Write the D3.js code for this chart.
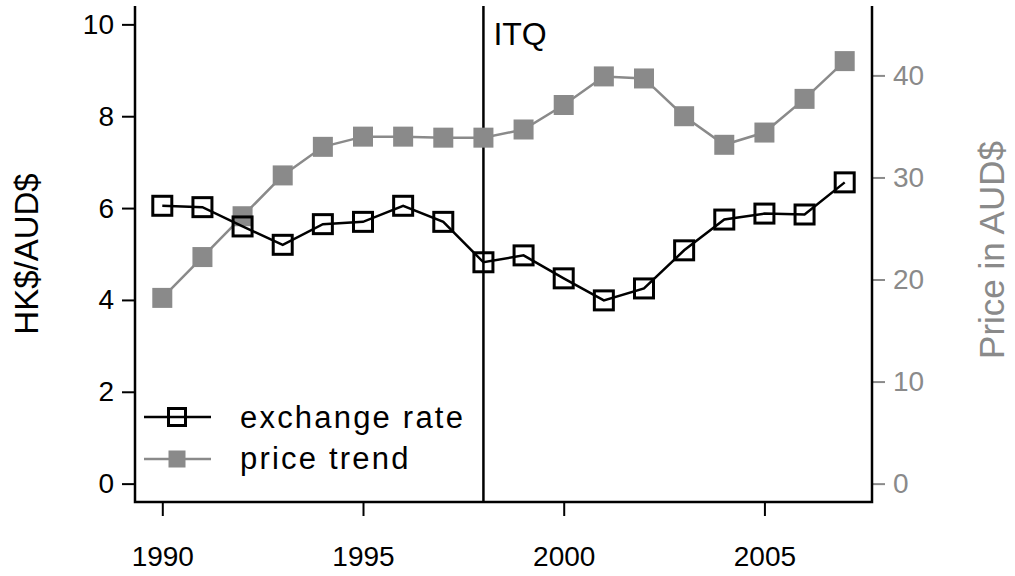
<!DOCTYPE html>
<html><head><meta charset="utf-8">
<script src="https://cdn.jsdelivr.net/npm/d3@7"></script>
<style>body{margin:0;background:#fff}svg{display:block}text{font-family:"Liberation Sans",Arial,sans-serif}</style>
</head><body>
<svg id="c" width="1015" height="576"></svg>
<script>
const years = [1990,1991,1992,1993,1994,1995,1996,1997,1998,1999,2000,2001,2002,2003,2004,2005,2006,2007];
const exchangeRate = [6.05,6.02,5.6,5.2,5.65,5.7,6.05,5.7,4.82,4.97,4.47,3.99,4.25,5.08,5.75,5.88,5.86,6.56];
const priceTrend = [18.2,22.2,26.2,30.2,33.0,34.0,34.0,33.9,33.9,34.7,37.1,39.9,39.7,36.0,33.2,34.4,37.7,41.4];
const xTicks = [1990,1995,2000,2005];
const leftTicks = [0,2,4,6,8,10];
const rightTicks = [0,10,20,30,40];
const itqYear = 1998;
const legendLabels = ["exchange rate","price trend"];

const svg = d3.select("#c");
const L = 135, R = 872, T = 6, B = 502;
const gray = "#8a8a8a";
const x = d3.scaleLinear().domain([1989.32, 2007.68]).range([L, R]);
const yL = d3.scaleLinear().domain([-0.4, 10.4]).range([B, T]);
const yR = d3.scaleLinear().domain([-1.8, 46.8]).range([B, T]);

// left axis
const gL = svg.append("g").attr("transform",`translate(${L},0)`)
  .call(d3.axisLeft(yL).tickValues(leftTicks).tickSize(13).tickPadding(8));
gL.select(".domain").remove();
gL.selectAll(".tick line").attr("stroke","#000").attr("stroke-width",2);
gL.selectAll(".tick text").attr("font-size",28).attr("fill","#000");

// right axis
const gR = svg.append("g").attr("transform",`translate(${R},0)`)
  .call(d3.axisRight(yR).tickValues(rightTicks).tickSize(13).tickPadding(8));
gR.select(".domain").remove();
gR.selectAll(".tick line").attr("stroke",gray).attr("stroke-width",2);
gR.selectAll(".tick text").attr("font-size",28).attr("fill",gray);

// bottom axis
const gB = svg.append("g").attr("transform",`translate(0,${B})`)
  .call(d3.axisBottom(x).tickValues(xTicks).tickFormat(d3.format("d")).tickSize(14).tickPadding(30));
gB.select(".domain").remove();
gB.selectAll(".tick line").attr("stroke","#000").attr("stroke-width",2);
gB.selectAll(".tick text").attr("font-size",28).attr("fill","#000");

// frame (open at top)
svg.append("path").attr("d",`M${L},${T}V${B}H${R}V${T}`)
  .attr("fill","none").attr("stroke","#000").attr("stroke-width",2.5);

// ITQ line
svg.append("line").attr("x1",x(itqYear)).attr("x2",x(itqYear)).attr("y1",T).attr("y2",B)
  .attr("stroke","#000").attr("stroke-width",2.5);
svg.append("text").attr("x",x(itqYear)+10).attr("y",45).attr("font-size",32).text("ITQ");

// price trend
svg.append("path").datum(d3.zip(years, priceTrend))
  .attr("d", d3.line().x(d=>x(d[0])).y(d=>yR(d[1])))
  .attr("fill","none").attr("stroke",gray).attr("stroke-width",2.5);
svg.selectAll(".pm").data(d3.zip(years, priceTrend)).join("rect")
  .attr("x",d=>x(d[0])-10).attr("y",d=>yR(d[1])-10).attr("width",20).attr("height",20)
  .attr("fill",gray);

// exchange rate
svg.append("path").datum(d3.zip(years, exchangeRate))
  .attr("d", d3.line().x(d=>x(d[0])).y(d=>yL(d[1])))
  .attr("fill","none").attr("stroke","#000").attr("stroke-width",2.5);
svg.selectAll(".em").data(d3.zip(years, exchangeRate)).join("rect")
  .attr("x",d=>x(d[0])-9.5).attr("y",d=>yL(d[1])-9.5).attr("width",19).attr("height",19)
  .attr("fill","none").attr("stroke","#000").attr("stroke-width",3);

// axis titles
svg.append("text").attr("transform",`translate(38,254) rotate(-90)`).attr("text-anchor","middle")
  .attr("font-size",33).attr("fill","#000").text("HK$/AUD$");
svg.append("text").attr("transform",`translate(1004,250) rotate(-90)`).attr("text-anchor","middle")
  .attr("font-size",35).attr("fill",gray).text("Price in AUD$");

// legend
const lg = svg.append("g");
lg.append("line").attr("x1",144).attr("x2",211).attr("y1",417).attr("y2",417).attr("stroke","#000").attr("stroke-width",2.5);
lg.append("rect").attr("x",177-8.5).attr("y",417-8.5).attr("width",17).attr("height",17).attr("fill","none").attr("stroke","#000").attr("stroke-width",3);
lg.append("line").attr("x1",144).attr("x2",211).attr("y1",459).attr("y2",459).attr("stroke",gray).attr("stroke-width",2.5);
lg.append("rect").attr("x",177-8.5).attr("y",459-8.5).attr("width",17).attr("height",17).attr("fill",gray);
lg.append("text").attr("x",240).attr("y",428).attr("font-size",31).attr("letter-spacing",2.2).text(legendLabels[0]);
lg.append("text").attr("x",240).attr("y",469).attr("font-size",31).attr("letter-spacing",2.2).text(legendLabels[1]);
</script>
</body></html>
